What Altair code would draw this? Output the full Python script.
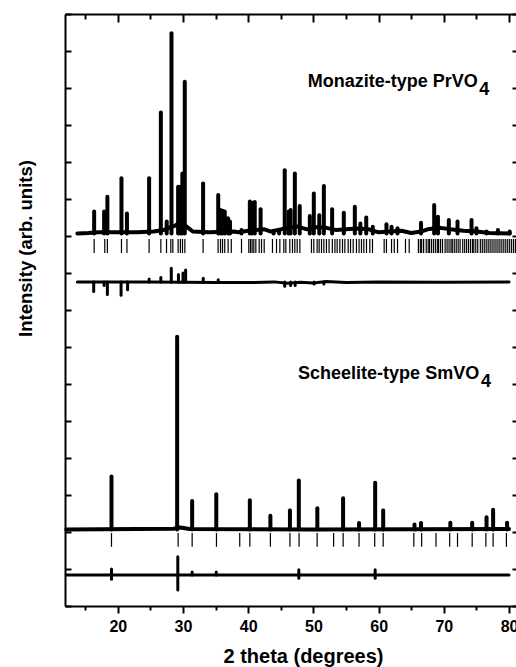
import altair as alt
import pandas as pd

FONT = "Liberation Sans"
X_DOMAIN = [11.9, 81.07]
Y_DOMAIN = [0, 16]

# ---------------- Monazite-type PrVO4 (upper pattern) ----------------
mon_base = 10.07
mon_peak_pos = [16.37, 17.9, 18.4, 20.56, 21.4, 24.8, 26.6, 27.5, 28.23, 29.25, 29.6, 29.9,
                30.27, 33.08, 35.4, 35.75, 36.06, 36.4, 36.9, 37.2, 38.97, 40.25, 40.6, 41.0,
                41.9, 43.9, 44.74, 45.6, 46.2, 46.5, 47.15, 47.9, 49.45, 50.06, 50.9, 51.6,
                52.87, 54.66, 56.35, 57.2, 58.1, 59.1, 61.2, 61.98, 62.9, 66.5, 68.52, 69.1,
                70.77, 72.1, 74.25, 75.0, 76.55, 78.3, 80.1]
mon_peak_int = [10.66, 10.66, 11.06, 11.56, 10.61, 11.56, 13.34, 10.39, 15.48, 11.33, 11.33, 11.69,
                14.17, 11.42, 11.11, 10.7, 10.68, 10.66, 10.48, 10.39, 10.16, 10.93, 10.9, 10.92,
                10.72, 10.14, 10.16, 11.78, 10.66, 10.7, 11.69, 10.81, 10.54, 11.15, 10.56, 11.35,
                10.72, 10.63, 10.79, 10.34, 10.5, 10.25, 10.32, 10.25, 10.21, 10.36, 10.84, 10.52,
                10.43, 10.39, 10.43, 10.21, 10.12, 10.16, 10.12]
mon_bg_x = [13.8, 15.5, 17.0, 19.5, 23.0, 25.5, 27.0, 27.8, 28.8, 29.6, 30.8, 31.5, 34.0, 37.8,
            38.5, 40.0, 42.5, 43.5, 45.0, 46.0, 47.5, 49.0, 50.5, 52.0, 53.5, 55.0, 56.8, 58.5,
            60.0, 63.5, 65.0, 66.5, 67.5, 69.5, 71.0, 73.0, 75.0, 77.0, 80.1]
mon_bg_y = [10.07, 10.08, 10.1, 10.1, 10.1, 10.12, 10.16, 10.22, 10.28, 10.38, 10.22, 10.12, 10.1, 10.12,
            10.1, 10.14, 10.18, 10.12, 10.18, 10.22, 10.26, 10.18, 10.24, 10.22, 10.16, 10.18, 10.2, 10.18,
            10.1, 10.14, 10.08, 10.12, 10.18, 10.22, 10.18, 10.14, 10.12, 10.08, 10.07]
mon_bragg = [16.37, 18.0, 18.4, 20.56, 21.4, 24.8, 26.6, 27.47, 28.13, 28.44, 29.25, 29.6, 29.92,
             30.28, 33.08, 35.38, 35.75, 36.06, 36.4, 36.92, 37.4, 38.97, 40.09, 40.35, 40.6, 40.86,
             41.17, 41.68, 42.04, 42.45, 43.72, 44.34, 44.85, 45.46, 45.77, 46.38, 46.79, 47.15,
             47.51, 47.92, 49.7, 50.06, 50.57, 50.88, 51.24, 51.6, 52.0, 52.4, 52.9, 53.3, 53.64,
             54.05, 54.46, 54.82, 55.33, 55.69, 56.1, 56.6, 57.0, 57.37, 57.73, 58.14, 58.65, 59.06,
             60.85, 61.2, 61.98, 62.4, 62.9, 64.12, 64.69, 66.1, 66.4, 66.6, 66.9, 67.3, 67.6, 67.8,
             68.1, 68.4, 68.7, 69.0, 69.2, 69.5, 69.8, 70.2, 70.5, 70.8, 71.1, 71.3, 71.6, 71.9,
             72.2, 72.5, 72.9, 73.2, 73.5, 73.8, 74.1, 74.4, 74.6, 74.9, 75.2, 75.6, 75.9, 76.2,
             76.5, 76.8, 77.1, 77.4, 77.7, 78.0, 78.3, 78.6, 78.9, 79.2, 79.5, 79.8, 80.1, 80.4,
             80.7, 81.0]
mon_bragg_top, mon_bragg_bot = 9.92, 9.54
mon_diff_base = 8.76
mon_diff_pos = [16.3, 17.9, 18.4, 20.5, 21.5, 24.8, 26.6, 28.2, 29.3, 30.0, 30.4, 33.1, 35.4,
                45.6, 46.5, 47.2, 50.1, 51.6]
mon_diff_val = [8.5, 8.66, 8.42, 8.4, 8.55, 8.84, 8.88, 9.13, 8.96, 9.0, 9.08, 8.86, 8.82,
                8.64, 8.66, 8.66, 8.7, 8.7]
mon_diff_line_x = [13.8, 25.0, 35.0, 40.0, 44.0, 46.0, 48.0, 50.0, 52.0, 55.0, 60.0, 70.0, 80.0]
mon_diff_line_y = [8.76, 8.76, 8.74, 8.74, 8.76, 8.72, 8.75, 8.73, 8.77, 8.74, 8.76, 8.75, 8.76]

# ---------------- Scheelite-type SmVO4 (lower pattern) ----------------
sch_base = 2.07
sch_peak_pos = [19.03, 29.1, 31.4, 35.1, 40.25, 43.4, 46.4, 47.76, 50.6, 54.55, 57.0, 59.47,
                60.7, 65.5, 66.5, 71.0, 74.35, 76.55, 77.56, 79.7]
sch_peak_int = [3.5, 7.28, 2.84, 3.02, 2.86, 2.44, 2.58, 3.39, 2.64, 2.91, 2.24, 3.33,
                2.58, 2.2, 2.24, 2.25, 2.25, 2.4, 2.6, 2.25]
sch_bg_x = [12.1, 28.5, 29.6, 31.0, 50.0, 80.0]
sch_bg_y = [2.07, 2.09, 2.12, 2.08, 2.07, 2.08]
sch_bragg = [19.03, 29.25, 31.4, 35.13, 38.7, 40.25, 43.4, 46.4, 47.8, 50.57, 53.1, 54.56, 57.0,
             59.4, 60.7, 65.4, 66.6, 68.8, 70.9, 72.1, 74.35, 76.45, 77.56, 79.6]
sch_bragg_top, sch_bragg_bot = 1.97, 1.6
sch_diff_base = 0.84
sch_diff_pos = [19.03, 19.03, 29.2, 29.2, 31.4, 35.1, 47.76, 47.76, 59.47, 59.47]
sch_diff_val = [1.0, 0.72, 1.33, 0.43, 0.92, 0.92, 0.98, 0.75, 0.98, 0.75]
sch_diff_line_x = [12.1, 30.0, 50.0, 80.0]
sch_diff_line_y = [0.84, 0.84, 0.84, 0.84]

labels = ["Monazite-type PrVO", "Scheelite-type SmVO"]
label_x = [75.21, 75.42]
label_y = [14.03, 6.13]
sub_x = [75.42, 75.7]
sub_y = [13.82, 5.93]

x_major = [20, 30, 40, 50, 60, 70, 80]
x_minor = [15, 25, 35, 45, 55, 65, 75]
y_ticks = list(range(0, 17))

# ---------------- tables ----------------
peaks = pd.DataFrame({"x": mon_peak_pos + sch_peak_pos,
                      "y": mon_peak_int + sch_peak_int,
                      "y0": [mon_base] * len(mon_peak_pos) + [sch_base] * len(sch_peak_pos)})
bg = pd.DataFrame({"x": mon_bg_x + sch_bg_x, "y": mon_bg_y + sch_bg_y,
                   "s": ["m"] * len(mon_bg_x) + ["s"] * len(sch_bg_x)})
bragg = pd.DataFrame({"x": mon_bragg + sch_bragg,
                      "y": [mon_bragg_top] * len(mon_bragg) + [sch_bragg_top] * len(sch_bragg),
                      "y0": [mon_bragg_bot] * len(mon_bragg) + [sch_bragg_bot] * len(sch_bragg)})
diff_sp = pd.DataFrame({"x": mon_diff_pos + sch_diff_pos,
                        "y": mon_diff_val + sch_diff_val,
                        "y0": [mon_diff_base] * len(mon_diff_pos) + [sch_diff_base] * len(sch_diff_pos)})
diff_ln = pd.DataFrame({"x": mon_diff_line_x + sch_diff_line_x,
                        "y": mon_diff_line_y + sch_diff_line_y,
                        "s": ["m"] * len(mon_diff_line_x) + ["s"] * len(sch_diff_line_x)})
lab = pd.DataFrame({"x": label_x, "y": label_y, "t": labels})
sub = pd.DataFrame({"x": sub_x, "y": sub_y, "t": ["4", "4"]})

xs = alt.Scale(domain=X_DOMAIN, nice=False, zero=False)
ys = alt.Scale(domain=Y_DOMAIN, nice=False, zero=False)

common = dict(grid=False, tickColor="black", domainColor="black")

ax_bottom = alt.Axis(orient="bottom", values=x_major, tickSize=7, tickWidth=2, domainWidth=2,
                     labelFont=FONT, labelFontWeight="bold", labelFontSize=16, labelColor="black",
                     labelPadding=5, labelFlush=False, labelOverlap=False,
                     title="2 theta (degrees)", titleFont=FONT, titleFontWeight="bold",
                     titleFontSize=20, titleColor="black", titleX=238, titleY=50,
                     titleBaseline="middle", titleAlign="center", **common)
ax_left = alt.Axis(orient="left", ticks=False, labels=False, domainWidth=2,
                   title="Intensity (arb. units)", titleFont=FONT, titleFontWeight="bold",
                   titleFontSize=18.5, titleColor="black", titleX=-40, titleY=234,
                   titleAngle=270, titleAlign="center", titleBaseline="middle", **common)
ax_top_dom = alt.Axis(orient="top", ticks=False, labels=False, domainWidth=2, title=None, **common)
ax_top_major = alt.Axis(orient="top", values=x_major, offset=-8, tickSize=8, tickWidth=2,
                        domain=False, labels=False, title=None, **common)
ax_top_minor = alt.Axis(orient="top", values=x_minor, offset=-5, tickSize=5, tickWidth=2,
                        domain=False, labels=False, title=None, **common)
ax_bot_minor = alt.Axis(orient="bottom", values=x_minor, tickSize=4, tickWidth=2,
                        domain=False, labels=False, title=None, **common)
ax_left_ticks = alt.Axis(orient="left", values=y_ticks, offset=-6, tickSize=6, tickWidth=2,
                         domain=False, labels=False, title=None, **common)
ax_right_ticks = alt.Axis(orient="right", values=y_ticks, offset=-4, tickSize=4, tickWidth=2,
                          domain=False, labels=False, title=None, **common)

l_peaks = alt.Chart(peaks).mark_rule(color="black", strokeWidth=4, strokeCap="round").encode(
    x=alt.X("x:Q", scale=xs, axis=ax_bottom),
    y=alt.Y("y:Q", scale=ys, axis=ax_left),
    y2="y0:Q")
l_bg = alt.Chart(bg).mark_line(color="black", strokeWidth=4, strokeJoin="round", strokeCap="round").encode(
    x=alt.X("x:Q", scale=xs, axis=ax_top_dom),
    y=alt.Y("y:Q", scale=ys, axis=ax_left_ticks),
    detail="s:N")
l_bragg = alt.Chart(bragg).mark_rule(color="black", strokeWidth=1.2).encode(
    x=alt.X("x:Q", scale=xs, axis=ax_top_major),
    y=alt.Y("y:Q", scale=ys, axis=ax_right_ticks),
    y2="y0:Q")
l_dsp = alt.Chart(diff_sp).mark_rule(color="black", strokeWidth=3, strokeCap="round").encode(
    x=alt.X("x:Q", scale=xs, axis=ax_top_minor),
    y=alt.Y("y:Q", scale=ys, axis=None),
    y2="y0:Q")
l_dln = alt.Chart(diff_ln).mark_line(color="black", strokeWidth=3, strokeCap="round").encode(
    x=alt.X("x:Q", scale=xs, axis=ax_bot_minor),
    y=alt.Y("y:Q", scale=ys, axis=None),
    detail="s:N")
l_lab = alt.Chart(lab).mark_text(font=FONT, fontWeight="bold", fontSize=18, align="right",
                                 baseline="alphabetic", color="black").encode(
    x=alt.X("x:Q", scale=xs, axis=None), y=alt.Y("y:Q", scale=ys, axis=None), text="t:N")
l_sub = alt.Chart(sub).mark_text(font=FONT, fontWeight="bold", fontSize=18, align="left",
                                 baseline="alphabetic", color="black").encode(
    x=alt.X("x:Q", scale=xs, axis=None), y=alt.Y("y:Q", scale=ys, axis=None), text="t:N")

chart = alt.layer(l_peaks, l_bg, l_bragg, l_dsp, l_dln, l_lab, l_sub).resolve_axis(
    x="independent", y="independent"
).properties(
    width=451, height=592,
    autosize=alt.AutoSizeParams(type="none"),
    padding={"left": 65, "top": 14, "right": 0, "bottom": 61},
    background="white",
).configure_view(stroke=None)

chart.save("out.html", embed_options={"renderer": "svg", "actions": False})
